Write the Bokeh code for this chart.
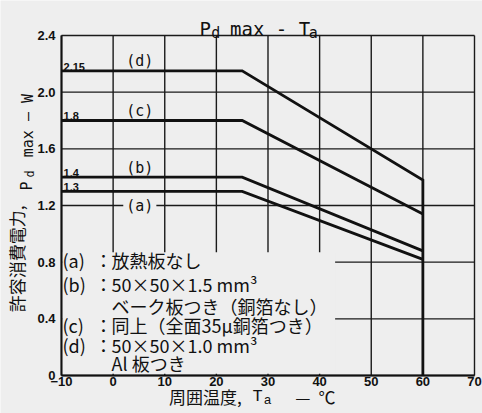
import math
from bokeh.plotting import figure
from bokeh.models import Range1d, FixedTicker, CustomJSTickFormatter
from bokeh.core.properties import value
from bokeh.embed import file_html
from bokeh.resources import INLINE

# ---------------- data ----------------
ta_a = [-10, 25, 60]
pd_a = [1.30, 1.30, 0.82]
ta_b = [-10, 25, 60]
pd_b = [1.40, 1.40, 0.88]
ta_c = [-10, 25, 60]
pd_c = [1.80, 1.80, 1.14]
ta_d = [-10, 25, 60, 60]
pd_d = [2.15, 2.15, 1.38, 0.0]

curve_names = ["(a)", "(b)", "(c)", "(d)"]
curve_name_y = [1.20, 1.467, 1.87, 2.218]
curve_levels = ["1.3", "1.4", "1.8", "2.15"]
curve_level_values = [1.30, 1.40, 1.80, 2.15]

x_ticks = [-10, 0, 10, 20, 30, 40, 50, 60, 70]
y_ticks = [0, 0.4, 0.8, 1.2, 1.6, 2.0, 2.4]
y_tick_labels = ["0", "0.4", "0.8", "1.2", "1.6", "2.0", "2.4"]
X_MIN, X_MAX = -10, 70
Y_MIN, Y_MAX = 0, 2.4

legend_keys = ["(a)", "(b)", "(c)", "(d)"]
legend_key_rows = [0, 1, 3, 4]
legend_text = ["放熱板なし", "50×50×1.5 mm³", "ベーク板つき（銅箔なし）",
               "同上（全面35μ銅箔つき）", "50×50×1.0 mm³", "Al 板つき"]
legend_row_y = [0.812, 0.649, 0.494, 0.353, 0.212, 0.085]

BG = "#eeeeee"
INK = "#111111"
CJK = "Noto Sans CJK JP"
MONO = "DejaVu Sans Mono"

# the frame fills the canvas; the axes are pinned at x=-10 and y=0
p = figure(width=482, height=413,
           x_range=Range1d(-21.816, 71.55), y_range=Range1d(-0.2682, 2.6471),
           output_backend="svg", toolbar_location=None,
           min_border=0, min_border_left=0, min_border_right=0,
           min_border_top=0, min_border_bottom=0)
p.title.text = ""
p.title.visible = False
p.background_fill_color = BG
p.border_fill_color = BG
p.outline_line_color = None

p.xaxis.ticker = FixedTicker(ticks=x_ticks)
p.yaxis.ticker = FixedTicker(ticks=y_ticks)
p.yaxis.formatter = CustomJSTickFormatter(
    args=dict(yt=y_ticks, yl=y_tick_labels),
    code="const i = yt.findIndex(t => Math.abs(t - tick) < 1e-9); return i >= 0 ? yl[i] : String(tick);")
p.xaxis.fixed_location = Y_MIN
p.yaxis.fixed_location = X_MIN
p.xaxis.bounds = (X_MIN, X_MAX)
p.yaxis.bounds = (Y_MIN, Y_MAX)
for ax in (p.xaxis, p.yaxis):
    ax.major_tick_out = 0
    ax.major_tick_in = 0
    ax.minor_tick_line_color = None
    ax.axis_line_color = INK
    ax.axis_line_width = 2
    ax.major_label_text_font = "Liberation Sans"
    ax.major_label_text_font_style = "bold"
    ax.major_label_text_font_size = "13px"
    ax.major_label_text_color = INK
p.xaxis.major_label_standoff = 1
p.yaxis.major_label_standoff = 6

# grid lines at the tick values, limited to the chart box
GRID_COLOR = "#1a1a1a"
p.xgrid.visible = False
p.ygrid.visible = False
vx = list(x_ticks)
hy = list(y_ticks)
p.segment(x0=vx, y0=[Y_MIN] * len(vx), x1=list(vx), y1=[Y_MAX] * len(vx),
          line_color=GRID_COLOR, line_width=1.4)
p.segment(x0=[X_MIN] * len(hy), y0=hy, x1=[X_MAX] * len(hy), y1=list(hy),
          line_color=GRID_COLOR, line_width=1.4)

# blank area behind the legend text (hides grid there)
p.quad(left=[-9.85], right=[43], bottom=[0.012], top=[0.87], fill_color=BG, line_color=None)

# curves
for xs, ys in ((ta_a, pd_a), (ta_b, pd_b), (ta_c, pd_c), (ta_d, pd_d)):
    p.line(xs, ys, line_width=2.8, line_color=INK, line_join="miter")

# curve names; (a) sits on the 1.2 grid line with a gap around it
p.text(x=[5.17], y=curve_name_y[:1], text=curve_names[:1],
       text_font=value(MONO), text_font_size="15px", text_color=INK,
       text_align="center", text_baseline="middle",
       background_fill_color=BG, padding=3)
p.text(x=[5.17] * 3, y=curve_name_y[1:], text=curve_names[1:],
       text_font=value(MONO), text_font_size="15px", text_color=INK,
       text_align="center", text_baseline="middle")

# level labels
p.text(x=[-9.6] * len(curve_levels), y=[v + 0.03 for v in curve_level_values], text=curve_levels,
       text_font=value("Liberation Sans"), text_font_style="bold", text_font_size="11px",
       text_color=INK, text_align="left", text_baseline="alphabetic")

# legend block
key_y = [legend_row_y[i] for i in legend_key_rows]
p.text(x=[-9.8] * len(legend_keys), y=key_y, text=legend_keys,
       text_font=value(CJK), text_font_size="18px", text_color=INK,
       text_align="left", text_baseline="middle")
p.text(x=[-3.6] * len(legend_keys), y=key_y, text=["："] * len(legend_keys),
       text_font=value(CJK), text_font_size="18px", text_color=INK,
       text_align="left", text_baseline="middle")
p.text(x=[-0.3] * len(legend_text), y=legend_row_y, text=legend_text,
       text_font=value(CJK), text_font_size="18px", text_color=INK,
       text_align="left", text_baseline="middle")

def lab(x, y, t, font, size, align="left", base="alphabetic", angle=0.0):
    p.text(x=[x], y=[y], text=[t], text_font=value(font), text_font_size=size,
           text_color=INK, text_align=align, text_baseline=base, angle=angle)

# title: P_d max - T_a
lab(16.73, 2.449, "P", MONO, "19px")
lab(19.02, 2.421, "d", MONO, "15px")
lab(22.65, 2.449, "max - T", MONO, "19px")
lab(37.9, 2.421, "a", MONO, "15px")

# x axis label: 周囲温度,T_a — ℃
XL_Y = -0.150
lab(10.81, XL_Y, "周囲温度,", CJK, "17px", base="middle")
lab(27.0, XL_Y, "T", "Liberation Mono", "17px", base="middle")
lab(29.2, XL_Y - 0.025, "a", "Liberation Mono", "13px", base="middle")
lab(35.3, XL_Y, "—", CJK, "17px", base="middle")
lab(39.8, XL_Y, "℃", CJK, "17px", base="middle")

# y axis label: 許容消費電力,P_d max — W (rotated)
ang = math.pi / 2
lab(-18.78, 1.20, "許容消費電力,", CJK, "17px", align="right", base="middle", angle=ang)
lab(-16.68, 1.306, "P", MONO, "15px", align="left", base="middle", angle=ang)
lab(-16.01, 1.397, "d", MONO, "12px", align="left", base="middle", angle=ang)
lab(-16.49, 1.764, "max — W", MONO, "15px", align="center", base="middle", angle=ang)

open("out.html", "w").write(file_html(p, INLINE))
